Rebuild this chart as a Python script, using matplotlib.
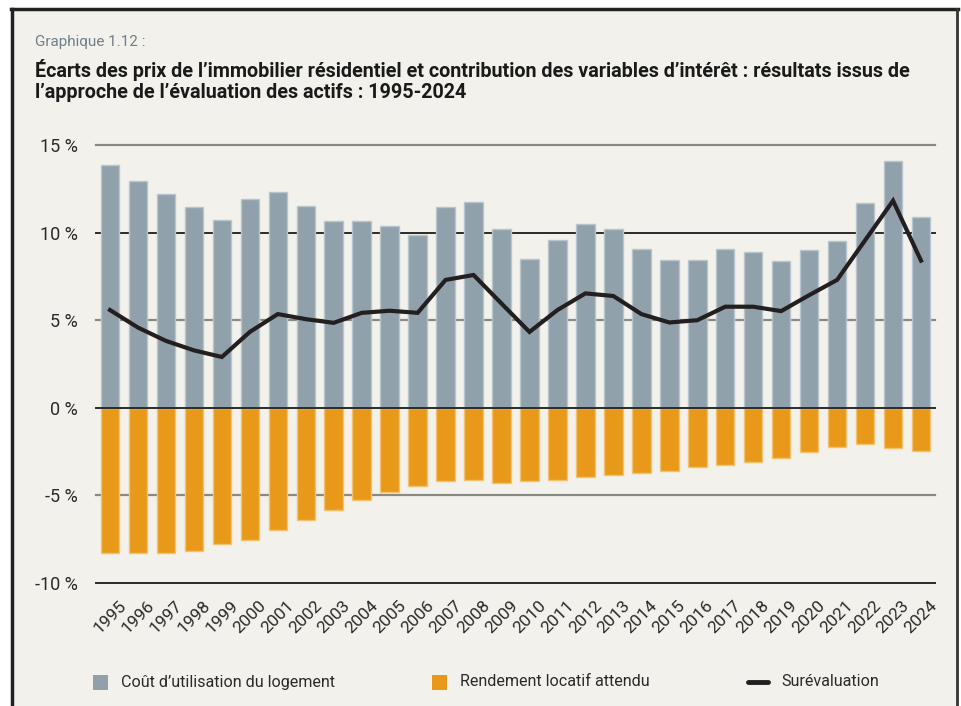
import matplotlib
matplotlib.use("Agg")
import matplotlib.pyplot as plt
import matplotlib.transforms as mtransforms
from matplotlib.lines import Line2D
from matplotlib.patches import Rectangle

years = [str(y) for y in range(1995, 2025)]
cout_utilisation = [13.85, 12.93, 12.22, 11.48, 10.73, 11.94, 12.32, 11.52, 10.68, 10.68,
                    10.39, 9.84, 11.48, 11.77, 10.22, 8.50, 9.59, 10.47, 10.22, 9.05,
                    8.42, 8.46, 9.05, 8.88, 8.38, 9.01, 9.51, 11.69, 14.10, 10.89]
rendement_locatif = [-8.30, -8.30, -8.30, -8.20, -7.80, -7.56, -6.97, -6.38, -5.85, -5.26,
                     -4.80, -4.44, -4.17, -4.13, -4.30, -4.17, -4.10, -3.96, -3.85, -3.71,
                     -3.60, -3.39, -3.28, -3.09, -2.84, -2.51, -2.21, -2.04, -2.30, -2.46]
surevaluation = [5.58, 4.58, 3.82, 3.28, 2.90, 4.33, 5.35, 5.06, 4.85, 5.42,
                 5.54, 5.42, 7.30, 7.58, 5.95, 4.33, 5.58, 6.53, 6.38, 5.35,
                 4.87, 5.00, 5.77, 5.77, 5.52, 6.43, 7.30, 9.56, 11.82, 8.40]
yticks = [-10, -5, 0, 5, 10, 15]
ytick_labels = ["-10 %", "-5 %", "0 %", "5 %", "10 %", "15 %"]

BG = "#f2f1eb"
GRAY = "#91a1ab"
GRAY_EDGE = "#b9c5cc"
ORANGE = "#e8991a"
ORANGE_EDGE = "#f4c26e"
BLACK = "#231f20"
TXT = "#2a2a2a"

plt.rcParams['font.family'] = ['Roboto', 'DejaVu Sans']

W, H = 962, 706
fig = plt.figure(figsize=(W / 100, H / 100), dpi=100)
fig.patch.set_facecolor("white")

# background panel and frame
fig.add_artist(Rectangle((12 / W, 0), (957 - 12) / W, (H - 9) / H, transform=fig.transFigure,
                         facecolor=BG, edgecolor="none", zorder=-5))
fig.add_artist(Line2D([11 / W, 958 / W], [1 - 9 / H, 1 - 9 / H], transform=fig.transFigure,
                      color="#222222", lw=2.5, zorder=5))
fig.add_artist(Line2D([12 / W, 12 / W], [0, 1 - 9 / H], transform=fig.transFigure,
                      color="#222222", lw=2.5, zorder=5))
fig.add_artist(Line2D([957.5 / W, 957.5 / W], [0, 1 - 9 / H], transform=fig.transFigure,
                      color="#333333", lw=2, zorder=5))

# titles
fig.text(35 / W, 1 - 42 / H, "Graphique 1.12 :", fontsize=11, color="#6f7f8b", va="center")
fig.text(35 / W, 1 - 70 / H,
         "Écarts des prix de l’immobilier résidentiel et contribution des variables d’intérêt : résultats issus de",
         fontsize=14.2, fontweight="bold", color="#1a1a1a", va="center")
fig.text(35 / W, 1 - 93 / H, "l’approche de l’évaluation des actifs : 1995-2024",
         fontsize=14.2, fontweight="bold", color="#1a1a1a", va="center")

# axes
left, right, top, bottom = 96, 935, 145, 583
ax = fig.add_axes([left / W, 1 - bottom / H, (right - left) / W, (bottom - top) / H], zorder=2)
ax.set_facecolor("none")
x = list(range(len(years)))
ax.bar(x, cout_utilisation, width=0.66, color=GRAY, edgecolor=GRAY_EDGE, linewidth=1, zorder=2)
ax.bar(x, rendement_locatif, width=0.66, color=ORANGE, edgecolor=ORANGE_EDGE, linewidth=1, zorder=2)
ax.plot(x, surevaluation, color=BLACK, lw=3, zorder=4, solid_joinstyle="miter")

for v in yticks:
    dark = v in (-10, 0, 10)
    ax.axhline(v, color="#2a2a2a" if dark else "#8a8a85", lw=1.6 if not dark else 1.4,
               zorder=3 if v == 0 else 1, clip_on=False)

ax.set_xlim(-0.5, len(years) - 0.5)
ax.set_ylim(-10, 15)
ax.set_yticks(yticks)
ax.set_yticklabels(ytick_labels, fontsize=13, color=TXT)
ax.set_xticks(x)
ax.set_xticklabels(years, fontsize=12.5, rotation=45, ha="center", va="top", color=TXT)
offset = mtransforms.ScaledTranslation(9 / 100, 0, fig.dpi_scale_trans)
for lab in ax.get_xticklabels():
    lab.set_transform(lab.get_transform() + offset)
ax.tick_params(axis="y", length=0, pad=13)
ax.tick_params(axis="x", length=0, pad=11)
for s in ax.spines.values():
    s.set_visible(False)

# legend
ly = 1 - 682 / H
fig.add_artist(Rectangle((93 / W, 1 - 690 / H), 15 / W, 15 / H, transform=fig.transFigure,
                         facecolor=GRAY, edgecolor="none"))
fig.text(121 / W, ly, "Coût d’utilisation du logement", fontsize=11.6, color=TXT, va="center")
fig.add_artist(Rectangle((432 / W, 1 - 690 / H), 15 / W, 15 / H, transform=fig.transFigure,
                         facecolor=ORANGE, edgecolor="none"))
fig.text(460 / W, ly, "Rendement locatif attendu", fontsize=11.6, color=TXT, va="center")
fig.add_artist(Line2D([748 / W, 768 / W], [ly, ly], transform=fig.transFigure, color=BLACK,
                      lw=3.5, solid_capstyle="round"))
fig.text(781 / W, ly, "Surévaluation", fontsize=11.6, color=TXT, va="center")

fig.savefig("out.png", dpi=100, facecolor=fig.get_facecolor())
